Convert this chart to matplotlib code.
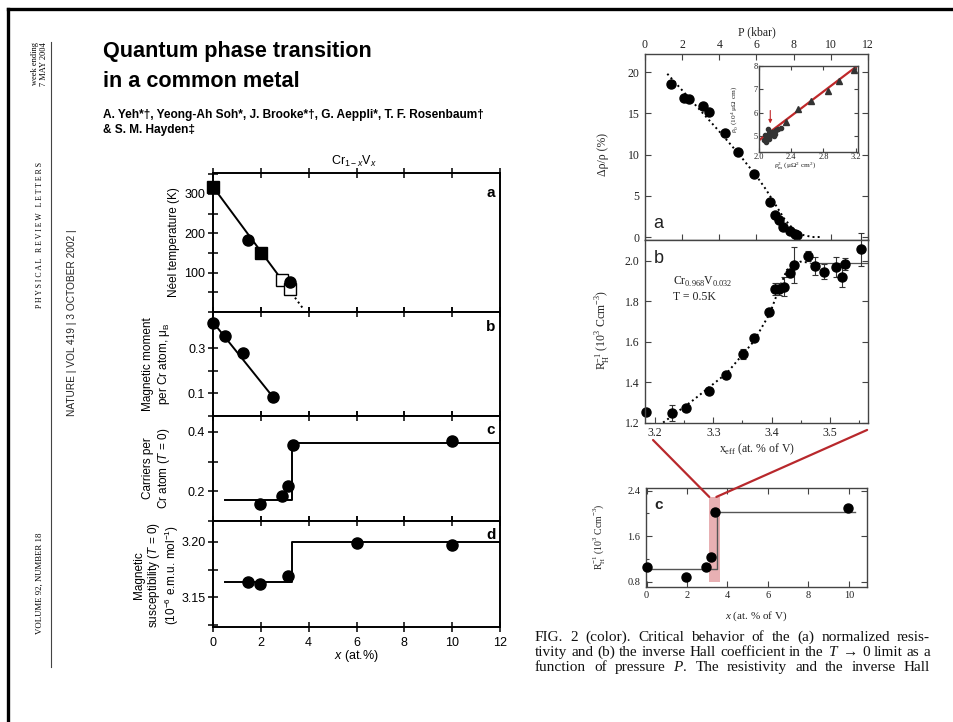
import matplotlib
matplotlib.use("Agg")
import matplotlib.pyplot as plt
from matplotlib.patches import Rectangle, ConnectionPatch
from matplotlib.lines import Line2D
from matplotlib.ticker import MultipleLocator, FormatStrFormatter

plt.rcParams['mathtext.fontset'] = 'custom'
plt.rcParams['mathtext.rm'] = 'Liberation Serif'
plt.rcParams['mathtext.it'] = 'Liberation Sans:italic'
plt.rcParams['mathtext.sf'] = 'Liberation Sans'
plt.rcParams['mathtext.cal'] = 'Liberation Serif:italic'
plt.rcParams['mathtext.bf'] = 'Liberation Serif:bold'

# ---------------- data: left figure (Cr1-xVx) ----------------
x_ticks_left = [0, 2, 4, 6, 8, 10, 12]
neel_circ_x = [0.0, 1.45, 3.2]
neel_circ_y = [318, 184, 75]
neel_sq_x = [0.0, 2.0]
neel_sq_y = [318, 151]
neel_open_x = [2.9, 3.2]
neel_open_y = [80, 58]
neel_fit_x = [0.0, 3.3]
neel_fit_y = [318, 47]
neel_ext_x = [3.3, 3.75]
neel_ext_y = [47, 10]

mom_x = [0.0, 0.5, 1.25, 2.5]
mom_y = [0.41, 0.352, 0.278, 0.083]
mom_fit_x = [0.0, 2.5]
mom_fit_y = [0.415, 0.085]

car_x = [1.95, 2.9, 3.15, 3.35, 10.0]
car_y = [0.157, 0.184, 0.217, 0.357, 0.369]
car_step_x = [0.5, 3.3, 3.3, 12.0]
car_step_y = [0.17, 0.17, 0.363, 0.363]

sus_x = [1.45, 1.95, 3.15, 6.0, 10.0]
sus_y = [3.1636, 3.1615, 3.169, 3.1995, 3.1975]
sus_step_x = [0.5, 3.3, 3.3, 12.0]
sus_step_y = [3.1636, 3.1636, 3.2, 3.2]

# ---------------- data: right figure (PRL) ----------------
P_ticks = [0, 2, 4, 6, 8, 10, 12]
P_data = [1.39, 2.1, 2.38, 3.1, 3.42, 4.3, 5.0, 5.86, 6.7, 6.97, 7.19, 7.42, 7.78, 8.05, 8.18]
drho_data = [18.6, 16.9, 16.7, 15.9, 15.2, 12.6, 10.3, 7.6, 4.3, 2.7, 2.06, 1.25, 0.76, 0.36, 0.3]
P_fit = [1.2, 2.0, 3.0, 4.0, 5.0, 6.0, 6.5, 7.0, 7.5, 8.0, 8.5, 9.0, 9.5]
drho_fit = [19.8, 17.8, 15.3, 12.8, 10.2, 7.4, 5.8, 4.0, 2.2, 0.9, 0.25, 0.0, 0.0]

inset_tri_x = [2.34, 2.48, 2.64, 2.86, 3.0, 3.18]
inset_tri_y = [5.6, 6.18, 6.49, 6.93, 7.35, 7.85]
inset_dot_x = [2.06, 2.08, 2.10, 2.12, 2.13, 2.15, 2.17, 2.19, 2.21, 2.24, 2.27,
               2.09, 2.11, 2.14, 2.16, 2.20]
inset_dot_y = [4.85, 5.05, 4.95, 5.15, 4.90, 5.10, 5.20, 5.00, 5.25, 5.30, 5.35,
               4.75, 5.30, 5.00, 5.20, 5.10]
inset_fit_x = [2.0, 3.2]
inset_fit_y = [4.83, 7.95]
inset_arrow_x = 2.14
inset_arrow_y = [6.22, 5.43]

hall_x = [3.185, 3.229, 3.253, 3.293, 3.321, 3.351, 3.370, 3.396, 3.406, 3.413,
          3.421, 3.431, 3.438, 3.463, 3.475, 3.490, 3.510, 3.520, 3.526, 3.553]
hall_y = [1.254, 1.249, 1.271, 1.356, 1.435, 1.539, 1.616, 1.745, 1.860, 1.858,
          1.872, 1.937, 1.979, 2.023, 1.974, 1.946, 1.967, 1.921, 1.982, 2.056]
hall_err = [0.0, 0.04, 0.0, 0.0, 0.0, 0.025, 0.0, 0.0, 0.03, 0.03,
            0.045, 0.02, 0.09, 0.025, 0.045, 0.035, 0.05, 0.05, 0.03, 0.08]
hall_fit_x = [3.214, 3.266, 3.323, 3.369, 3.397, 3.414, 3.426, 3.449, 3.466]
hall_fit_y = [1.2, 1.312, 1.444, 1.6, 1.74, 1.872, 1.954, 1.995, 1.99]
hall_plateau_x = [3.466, 3.564]
hall_plateau_y = [1.99, 1.99]

hc_x = [0.0, 1.95, 2.92, 3.17, 3.4, 9.95]
hc_y = [1.064, 0.888, 1.053, 1.24, 2.02, 2.10]
hc_step_x = [0.25, 3.5, 3.5, 10.33]
hc_step_y = [1.018, 1.018, 2.02, 2.02]
hc_band_x = [3.1, 3.65]
hc_band_y = [0.8, 2.29]

caption_lines = [
    'FIG. 2 (color).  Critical behavior of the (a) normalized resis-',
    'tivity and (b) the inverse Hall coefficient in the $\\mathcal{T}$ \u2192 0 limit as a',
    'function of pressure $\\mathcal{P}$. The resistivity and the inverse Hall',
]

# ---------------- layout helpers ----------------
W, H = 954, 722
fig = plt.figure(figsize=(W / 100, H / 100), dpi=100)
fig.patch.set_facecolor('white')


def rect(l, t, r, b):
    return [l / W, 1 - b / H, (r - l) / W, (b - t) / H]


def fx(x):
    return x / W


def fy(y):
    return 1 - y / H


SANS = 'Liberation Sans'
SERIF = ['Liberation Serif', 'DejaVu Serif']

# ---------------- page frame ----------------
fig.add_artist(Line2D([fx(8), fx(954)], [fy(9), fy(9)], color='k', lw=2.4,
                      transform=fig.transFigure))
fig.add_artist(Line2D([fx(8), fx(8)], [fy(9), fy(722)], color='k', lw=2.4,
                      transform=fig.transFigure))
fig.add_artist(Line2D([fx(51), fx(51)], [fy(42), fy(667)], color='#444', lw=0.8,
                      transform=fig.transFigure))

# margin texts
fig.text(fx(35), fy(64), 'week ending', rotation=90, ha='center', va='center',
         family=SERIF, fontsize=6)
fig.text(fx(44), fy(64), '7 MAY 2004', rotation=90, ha='center', va='center',
         family=SERIF, fontsize=6)
fig.text(fx(40), fy(235), 'P H Y S I C A L   R E V I E W   L E T T E R S', rotation=90,
         ha='center', va='center', family=SERIF, fontsize=5.6)
fig.text(fx(72), fy(323), 'NATURE | VOL 419 | 3 OCTOBER 2002 |', rotation=90,
         ha='center', va='center', family=SANS, fontsize=7.3, color='#222')
fig.text(fx(40), fy(583), 'VOLUME 92, NUMBER 18', rotation=90, ha='center',
         va='center', family=SERIF, fontsize=6.3)

# title + authors
fig.text(fx(103), fy(57), 'Quantum phase transition', family=SANS, fontweight='bold',
         fontsize=15.6, va='baseline', ha='left')
fig.text(fx(103), fy(87), 'in a common metal', family=SANS, fontweight='bold',
         fontsize=15.6, va='baseline', ha='left')
fig.text(fx(103), fy(118), 'A. Yeh*\u2020, Yeong-Ah Soh*, J. Brooke*\u2020, G. Aeppli*, '
         'T. F. Rosenbaum\u2020', family=SANS, fontweight='bold', fontsize=8.6,
         va='baseline', ha='left')
fig.text(fx(103), fy(133), '& S. M. Hayden\u2021', family=SANS, fontweight='bold',
         fontsize=8.6, va='baseline', ha='left')

# ---------------- left figure ----------------
left_edges = [(173, 312), (312, 416), (416, 521), (521, 627)]
axL = []
for t, b in left_edges:
    ax = fig.add_axes(rect(213, t, 500, b))
    ax.set_xlim(0, 12)
    ax.set_xticks(x_ticks_left)
    for s in ax.spines.values():
        s.set_linewidth(1.4)
    ax.tick_params(axis='both', which='both', direction='inout', length=7, width=1.1,
                   labelsize=9, labelfontfamily=SANS, top=True, bottom=True,
                   labelbottom=False, pad=2)
    axL.append(ax)

a1, a2, a3, a4 = axL
# panel a
a1.set_ylim(0, 353)
a1.set_yticks([100, 200, 300])
a1.yaxis.set_minor_locator(MultipleLocator(50))
a1.plot(neel_fit_x, neel_fit_y, '-', color='k', lw=1.4)
a1.plot(neel_ext_x, neel_ext_y, ':', color='k', lw=1.4)
a1.plot(neel_open_x, neel_open_y, 's', mfc='white', mec='k', ms=9, mew=1.0)
a1.plot(neel_sq_x, neel_sq_y, 's', color='k', ms=8.5, clip_on=False)
a1.plot(neel_circ_x, neel_circ_y, 'o', color='k', ms=8, clip_on=False)
# panel b
a2.set_ylim(0, 0.46)
a2.set_yticks([0.1, 0.3])
a2.yaxis.set_minor_locator(MultipleLocator(0.1))
a2.yaxis.set_major_formatter(FormatStrFormatter('%.1f'))
a2.plot(mom_fit_x, mom_fit_y, '-', color='k', lw=1.4)
a2.plot(mom_x, mom_y, 'o', color='k', ms=8, clip_on=False)
# panel c
a3.set_ylim(0.1, 0.453)
a3.set_yticks([0.2, 0.4])
a3.yaxis.set_minor_locator(MultipleLocator(0.1))
a3.yaxis.set_major_formatter(FormatStrFormatter('%.1f'))
a3.plot(car_step_x, car_step_y, '-', color='k', lw=1.4)
a3.plot(car_x, car_y, 'o', color='k', ms=8)
# panel d
a4.set_ylim(3.123, 3.219)
a4.set_yticks([3.15, 3.20])
a4.yaxis.set_minor_locator(MultipleLocator(0.025))
a4.yaxis.set_major_formatter(FormatStrFormatter('%.2f'))
a4.plot(sus_step_x, sus_step_y, '-', color='k', lw=1.4)
a4.plot(sus_x, sus_y, 'o', color='k', ms=8)
a4.tick_params(axis='x', labelbottom=True, pad=4)

for ax, lab, yy in zip(axL, 'abcd', [193, 327, 430, 535]):
    fig.text(fx(491), fy(yy), lab, ha='center', va='center', fontweight='bold',
             family=SANS, fontsize=11)

fig.text(fx(354), fy(161), r'Cr$_{\mathsf{1-}x}$V$_{x}$', ha='center', va='center',
         family=SANS, fontsize=9)
fig.text(fx(356), fy(656), r'$x$ (at.%)', ha='center', va='center', family=SANS,
         fontsize=9)
fig.text(fx(174), fy(242), 'N\u00e9el temperature (K)', rotation=90, ha='center',
         va='center', family=SANS, fontsize=8.5)
fig.text(fx(157), fy(364), 'Magnetic moment\nper Cr atom, \u03bc$_{\\mathsf{B}}$',
         rotation=90, ha='center', va='center', family=SANS, fontsize=8.5,
         linespacing=1.15)
fig.text(fx(157), fy(468), 'Carriers per\nCr atom ($T$ = 0)', rotation=90, ha='center',
         va='center', family=SANS, fontsize=8.5, linespacing=1.15)
fig.text(fx(157), fy(575), 'Magnetic\nsusceptibility ($T$ = 0)\n'
         '(10$^{\\mathsf{-6}}$ e.m.u. mol$^{\\mathsf{-1}}$)', rotation=90, ha='center',
         va='center', family=SANS, fontsize=8.5, linespacing=1.1)

# ---------------- right figure ----------------
GR = '#444444'
TXT = '#222222'


def style_right(ax, ls=8.5):
    for s in ax.spines.values():
        s.set_linewidth(1.0)
        s.set_color(GR)
    ax.tick_params(axis='both', which='both', direction='in', color=GR, width=0.8,
                   labelsize=ls, labelfontfamily='Liberation Serif', labelcolor=TXT)
    ax.tick_params(which='major', length=4)
    ax.tick_params(which='minor', length=2.5)


# panel a
ra = fig.add_axes(rect(645, 54, 868, 240))
style_right(ra)
ra.set_xlim(0, 12)
ra.set_ylim(-0.36, 22.2)
ra.set_xticks(P_ticks)
ra.set_yticks([0, 5, 10, 15, 20])
ra.tick_params(axis='x', top=True, bottom=True, labeltop=True, labelbottom=False, pad=2)
ra.tick_params(axis='y', right=True, pad=4)
ra.xaxis.set_label_position('top')
ra.set_xlabel('P (kbar)', family=SERIF, fontsize=8.5, color=TXT, labelpad=3)
ra.plot(P_fit, drho_fit, ':', color='k', lw=1.4)
ra.plot(P_data, drho_data, 'o', color='k', ms=6.5, clip_on=False)
ra.text(0.06, 0.09, 'a', transform=ra.transAxes, family=SANS, fontsize=13,
        ha='center', va='center', color=TXT)
fig.text(fx(603), fy(155), '\u0394\u03c1/\u03c1 (%)', rotation=90, ha='center',
         va='center', family=SERIF, fontsize=8.5, color=TXT)

# inset
ri = fig.add_axes(rect(759, 66, 858, 152))
style_right(ri, ls=6)
ri.set_xlim(2.0, 3.23)
ri.set_ylim(4.33, 8.0)
ri.set_xticks([2.0, 2.4, 2.8, 3.2])
ri.set_yticks([5, 6, 7, 8])
ri.xaxis.set_major_formatter(FormatStrFormatter('%.1f'))
ri.tick_params(axis='both', top=True, right=True, pad=1, length=3)
ri.plot(inset_fit_x, inset_fit_y, '-', color='#c0282a', lw=1.6)
ri.plot(inset_dot_x, inset_dot_y, 'o', color='#333', ms=3)
ri.plot(inset_tri_x, inset_tri_y, '^', color='#333', ms=4.5, clip_on=False)
ri.annotate('', xy=(inset_arrow_x, inset_arrow_y[1]),
            xytext=(inset_arrow_x, inset_arrow_y[0]),
            arrowprops=dict(arrowstyle='-|>', color='#c0282a', lw=0.8,
                            mutation_scale=5))
fig.text(fx(735), fy(109), '\u03c1$_{0}$ (10$^{4}$ \u03bc\u03a9 cm)', rotation=90,
         ha='center', va='center', family=SERIF, fontsize=5.3, color=TXT)
fig.text(fx(795), fy(167), '\u03c1$^{2}_{\\rm m}$ (\u03bc\u03a9$^{2}$ cm$^{2}$)',
         ha='center', va='center', family=SERIF, fontsize=5.3, color=TXT)

# panel b
rb = fig.add_axes(rect(645, 240, 868, 423))
style_right(rb)
rb.set_xlim(3.183, 3.565)
rb.set_ylim(1.198, 2.102)
rb.set_xticks([3.2, 3.3, 3.4, 3.5])
rb.xaxis.set_minor_locator(MultipleLocator(0.05))
rb.set_yticks([1.2, 1.4, 1.6, 1.8, 2.0])
rb.yaxis.set_major_formatter(FormatStrFormatter('%.1f'))
rb.tick_params(axis='y', right=True, pad=4)
rb.tick_params(axis='x', pad=3)
rb.plot(hall_fit_x, hall_fit_y, ':', color='k', lw=1.4)
rb.plot(hall_plateau_x, hall_plateau_y, '-', color='#555', lw=0.9)
rb.errorbar(hall_x, hall_y, yerr=hall_err, fmt='o', color='k', ms=6.5,
            ecolor='#333', elinewidth=0.8, capsize=2, capthick=0.8, clip_on=False)
rb.text(0.06, 0.9, 'b', transform=rb.transAxes, family=SANS, fontsize=13,
        ha='center', va='center', color=TXT)
rb.text(0.125, 0.77, 'Cr$_{0.968}$V$_{0.032}$', transform=rb.transAxes, family=SERIF,
        fontsize=8.5, ha='left', va='center', color=TXT)
rb.text(0.125, 0.69, 'T = 0.5K', transform=rb.transAxes, family=SERIF,
        fontsize=8.5, ha='left', va='center', color=TXT)
rb.set_xlabel('x$_{\\rm eff}$ (at. % of V)', family=SERIF, fontsize=8.5, color=TXT,
              labelpad=2)
fig.text(fx(603), fy(330), 'R$_{\\rm H}^{-1}$ (10$^{3}$ Ccm$^{-3}$)', rotation=90,
         ha='center', va='center', family=SERIF, fontsize=8.5, color=TXT)

# panel c
rc = fig.add_axes(rect(646, 488, 867, 587))
style_right(rc, ls=7.5)
rc.set_xlim(-0.03, 10.9)
rc.set_ylim(0.707, 2.447)
rc.set_xticks([0, 2, 4, 6, 8, 10])
rc.set_yticks([0.8, 1.6, 2.4])
rc.yaxis.set_minor_locator(MultipleLocator(0.4))
rc.yaxis.set_major_formatter(FormatStrFormatter('%.1f'))
rc.tick_params(axis='y', right=True, pad=4)
rc.tick_params(axis='x', top=True, pad=3)
rc.add_patch(Rectangle((hc_band_x[0], hc_band_y[0]), hc_band_x[1] - hc_band_x[0],
                       hc_band_y[1] - hc_band_y[0], facecolor='#e4a3a6',
                       edgecolor='none', alpha=0.85, zorder=1))
rc.plot(hc_step_x, hc_step_y, '-', color='#555', lw=1.0, zorder=2)
rc.plot(hc_x, hc_y, 'o', color='k', ms=6.5, clip_on=False, zorder=3)
rc.text(0.055, 0.83, 'c', transform=rc.transAxes, family=SANS, fontsize=11,
        fontweight='bold', ha='center', va='center', color=TXT)
rc.set_xlabel('$\\mathcal{x}$ (at. % of V)', family=SERIF, fontsize=8, color=TXT,
              labelpad=7)
fig.text(fx(600), fy(537), 'R$_{\\rm H}^{-1}$ (10$^{3}$ Ccm$^{-3}$)', rotation=90,
         ha='center', va='center', family=SERIF, fontsize=7, color=TXT)

# red zoom lines from panel b axis to the band in panel c
for xa, xb, yb in [(hc_band_x[0], 0.036, -0.093), (hc_band_x[1] - 0.2, 0.996, -0.038)]:
    cp = ConnectionPatch(xyA=(xa, hc_band_y[1]), coordsA=rc.transData,
                         xyB=(xb, yb), coordsB=rb.transAxes, color='#b8282c', lw=1.6)
    fig.add_artist(cp)

# caption, justified between x=535 and x=930
renderer = fig.canvas.get_renderer()
for i, line in enumerate(caption_lines):
    words = [w for w in line.split(' ') if w != '']
    texts = [fig.text(0, fy(641 + 15 * i), w, family=SERIF, fontsize=11,
                      va='baseline', ha='left', color='#111') for w in words]
    widths = [t.get_window_extent(renderer).width for t in texts]
    gap = (930 - 535 - sum(widths)) / (len(words) - 1)
    xpos = 535
    for t, wd in zip(texts, widths):
        t.set_x(fx(xpos))
        xpos += wd + gap

fig.savefig('out.png', dpi=100, facecolor='white')
